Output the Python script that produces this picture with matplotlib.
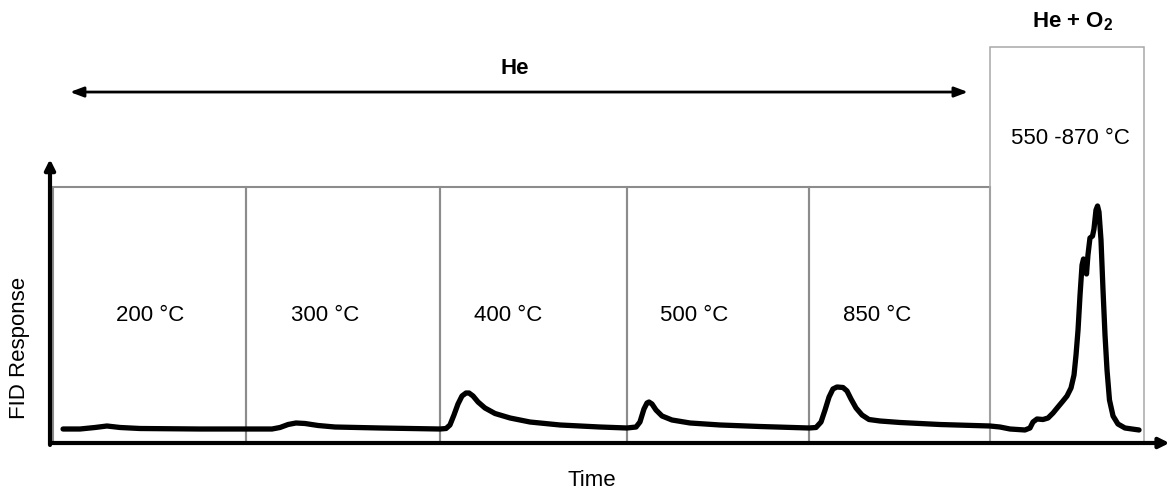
import numpy as np
import matplotlib.pyplot as plt
from matplotlib.patches import Rectangle

plt.rcParams['font.family'] = ['Liberation Sans', 'DejaVu Sans']
plt.rcParams['mathtext.fontset'] = 'custom'
plt.rcParams['mathtext.rm'] = 'Liberation Sans'
plt.rcParams['mathtext.bf'] = 'Liberation Sans:bold'

# FID trace (time, response) in arbitrary units
time = [1.17, 2.69, 4.04, 5.11, 6.28, 8.07, 13.45, 17.58, 19.91, 20.63,
        21.35, 22.06, 22.87, 24.04, 25.56, 29.60, 34.98, 35.52, 35.87, 36.23,
        36.59, 36.95, 37.31, 37.58, 37.94, 38.39, 39.01, 39.91, 41.26, 43.05,
        45.74, 49.33, 51.75, 52.56, 52.91, 53.27, 53.54, 53.72, 53.99, 54.35,
        54.89, 55.78, 57.40, 60.09, 63.68, 68.07, 68.70, 69.15, 69.51, 69.87,
        70.22, 70.58, 71.12, 71.48, 71.84, 72.29, 72.83, 73.45, 74.44, 76.23,
        79.82, 84.30, 85.20, 86.10, 87.44, 87.89, 88.16, 88.52, 89.06, 89.51,
        89.96, 90.40, 90.85, 91.21, 91.57, 91.84, 92.02, 92.20, 92.38, 92.56,
        92.69, 92.83, 92.96, 93.09, 93.27, 93.50, 93.63, 93.81, 93.95, 94.08,
        94.26, 94.44, 94.62, 94.80, 95.02, 95.34, 95.78, 96.41, 97.04, 97.67]
response = [4.98, 4.98, 5.52, 6.05, 5.52, 5.16, 4.98, 4.98, 4.98, 5.52,
            6.58, 7.12, 6.94, 6.23, 5.69, 5.34, 4.98, 5.16, 6.41, 9.96,
            13.88, 16.73, 17.79, 17.79, 16.73, 14.59, 12.46, 10.50, 8.90, 7.47,
            6.41, 5.69, 5.34, 5.69, 7.47, 12.10, 14.23, 14.59, 13.88, 11.74,
            9.61, 8.19, 7.12, 6.41, 5.87, 5.34, 5.52, 7.47, 11.74, 16.37,
            19.22, 19.93, 19.75, 18.51, 15.66, 12.46, 9.96, 8.36, 7.83, 7.30,
            6.58, 6.05, 5.69, 4.98, 4.63, 5.34, 7.47, 8.54, 8.36, 8.90,
            10.68, 12.81, 14.95, 16.73, 19.57, 24.20, 31.32, 40.21, 52.67, 63.35,
            65.48, 64.41, 60.14, 66.90, 72.95, 73.67, 76.16, 82.92, 84.34, 82.21,
            72.24, 54.45, 38.43, 25.98, 15.30, 9.61, 6.76, 5.34, 4.98, 4.63]

# heating steps
step_edges = [0.27, 17.58, 34.98, 51.75, 68.07, 84.30, 98.12]
step_labels = ['200 °C', '300 °C', '400 °C', '500 °C', '850 °C', '550 -870 °C']
label_x = [8.97, 24.66, 41.08, 57.76, 74.17, 91.48]
label_y = [45.5, 45.5, 45.5, 45.5, 45.5, 108.5]
box_top = [91.1, 91.1, 91.1, 91.1, 91.1, 140.9]

fig = plt.figure(figsize=(11.71, 4.9), dpi=100)
ax = fig.add_axes([50 / 1171, 47 / 490, 1115 / 1171, 281 / 490])
ax.set_xlim(0, 100)
ax.set_ylim(0, 100)
ax.axis('off')

for i in range(len(step_labels)):
    last = i == len(step_labels) - 1
    ax.add_patch(Rectangle((step_edges[i], 0), step_edges[i + 1] - step_edges[i], box_top[i],
                           fill=False, edgecolor='#a8a8a8' if last else '#8c8c8c',
                           lw=1.1 if last else 1.5, clip_on=False, zorder=1))
    ax.text(label_x[i], label_y[i], step_labels[i], ha='center', va='center', fontsize=16,
            clip_on=False)

ax.plot(time, response, color='black', lw=3.8, solid_joinstyle='round',
        solid_capstyle='round', zorder=3)

# axes with arrow heads
ax.annotate('', xy=(100.4, 0), xytext=(0, 0),
            arrowprops=dict(arrowstyle='-|>,head_length=0.6,head_width=0.3', lw=3,
                            color='black', shrinkA=0, shrinkB=0), annotation_clip=False)
ax.annotate('', xy=(0, 101), xytext=(0, -0.7),
            arrowprops=dict(arrowstyle='-|>,head_length=0.6,head_width=0.3', lw=3,
                            color='black', shrinkA=0, shrinkB=0), annotation_clip=False)

# carrier gas annotations
ax.annotate('', xy=(1.79, 124.9), xytext=(82.33, 124.9),
            arrowprops=dict(arrowstyle='<|-|>,head_length=0.8,head_width=0.3', lw=2,
                            color='black', shrinkA=0, shrinkB=0), annotation_clip=False)
ax.text(41.7, 133.4, 'He', ha='center', va='center', fontsize=16, fontweight='bold')
ax.text(91.75, 149.8, r'He + O$_\mathbf{2}$', ha='center', va='center', fontsize=16,
        fontweight='bold')

fig.text(20 / 1171, 1 - 348 / 490, 'FID Response', rotation=90, ha='center', va='center',
         fontsize=16)
fig.text(592 / 1171, 1 - 480 / 490, 'Time', ha='center', va='center', fontsize=16)

fig.savefig('out.png', dpi=100)
